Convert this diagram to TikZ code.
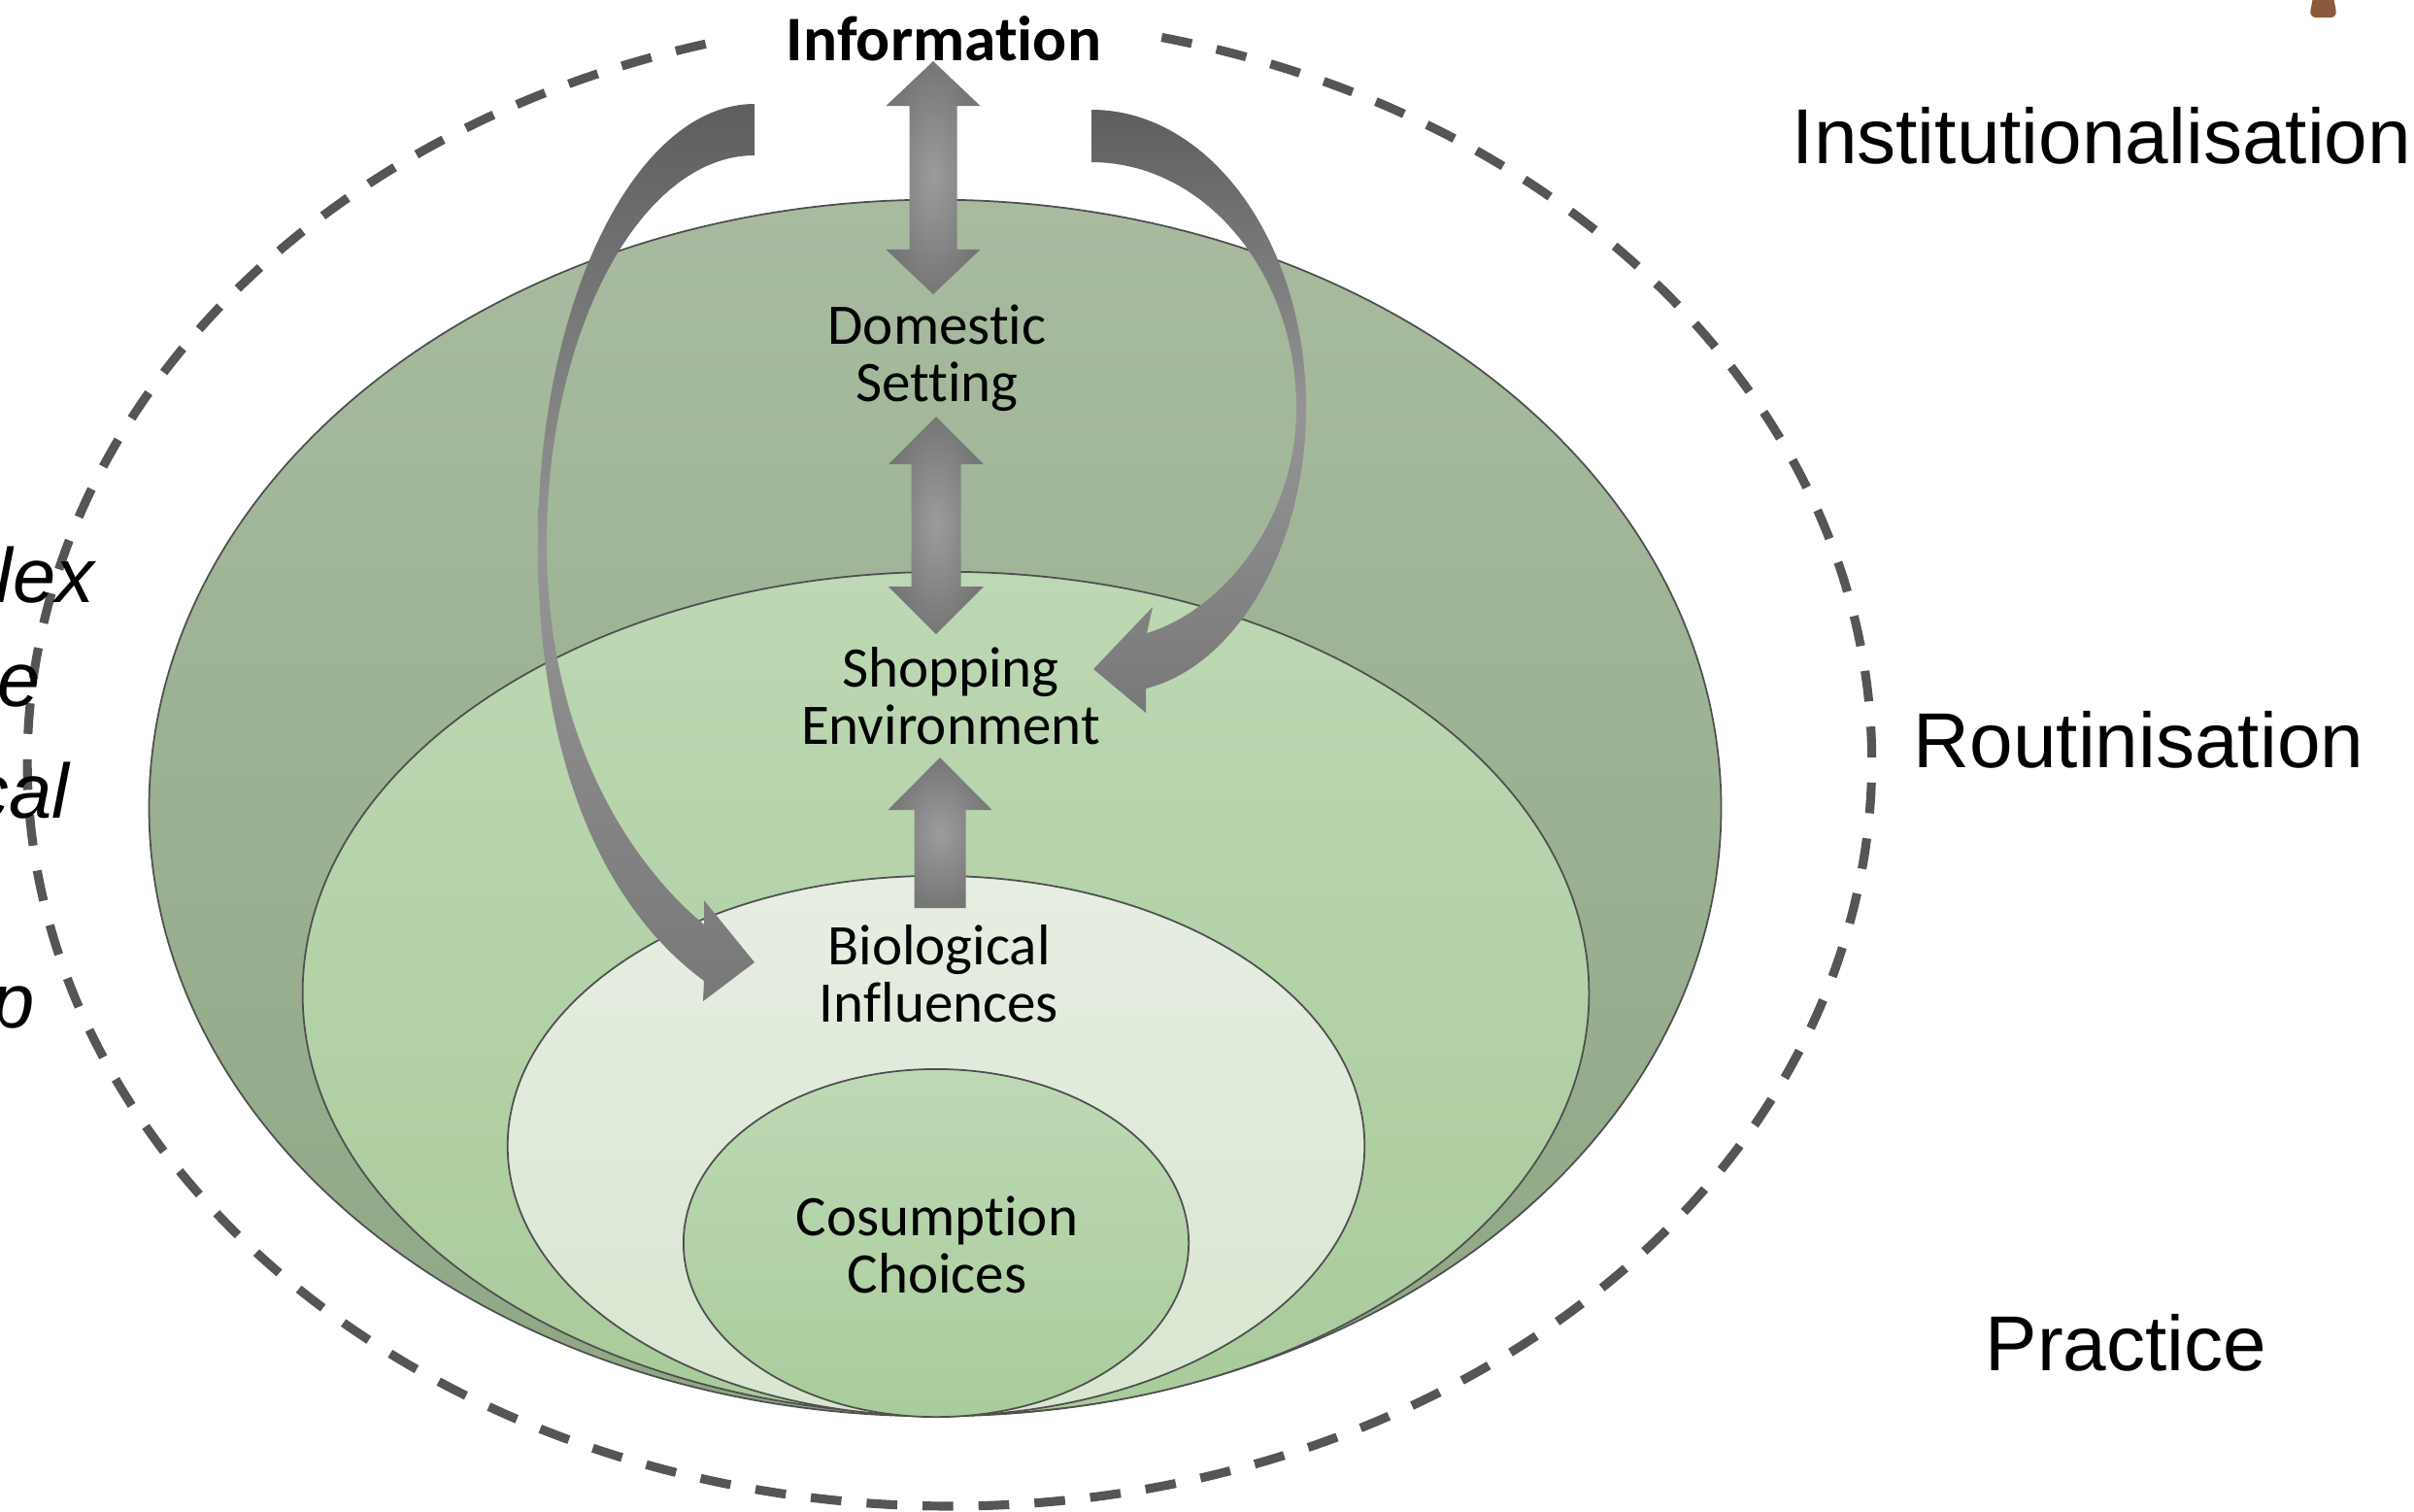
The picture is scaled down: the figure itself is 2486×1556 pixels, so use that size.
\documentclass[tikz,border=0pt]{standalone}
\usepackage{fontspec}
\setmainfont{Carlito}[Ligatures=NoCommon]
\newfontfamily\arialfont{Liberation Sans}
\usetikzlibrary{calc}

\definecolor{domtop}{HTML}{A8BBA0}
\definecolor{dombot}{HTML}{8FA785}
\definecolor{shoptop}{HTML}{BDD8B4}
\definecolor{shopbot}{HTML}{A9CB9B}
\definecolor{biotop}{HTML}{E6EEE2}
\definecolor{biobot}{HTML}{D8E6D0}
\definecolor{constop}{HTML}{BED9B5}
\definecolor{consbot}{HTML}{A9CC9C}
\definecolor{rim}{HTML}{4F4F4F}
\definecolor{dashgray}{HTML}{555555}
\definecolor{curvetop}{HTML}{5E5E5E}
\definecolor{curvemid}{HTML}{959595}
\definecolor{curvebot}{HTML}{787878}
\definecolor{blocklight}{HTML}{9C9C9C}
\definecolor{blockdark}{HTML}{767676}
\definecolor{tabbrown}{HTML}{8B5A3A}

% vertical block arrow with heads at both ends:
% #1 top tip, #2 bottom tip, #3 head half-width, #4 shaft half-width, #5 head length
\newcommand\twowayblock[5]{%
  \shade[blockfill] let \p1=(#1), \p2=(#2) in
    (\p1) -- (\x1+#3,\y1-#5) -- (\x1+#4,\y1-#5) -- (\x2+#4,\y2+#5) -- (\x2+#3,\y2+#5)
    -- (\p2) -- (\x2-#3,\y2+#5) -- (\x2-#4,\y2+#5) -- (\x1-#4,\y1-#5) -- (\x1-#3,\y1-#5) -- cycle;}
% vertical block arrow pointing up, flat tail:
% #1 tip, #2 tail centre, #3 head half-width, #4 shaft half-width, #5 head length
\newcommand\oneupblock[5]{%
  \shade[blockfill] let \p1=(#1), \p2=(#2) in
    (\p1) -- (\x1+#3,\y1-#5) -- (\x1+#4,\y1-#5) -- (\x1+#4,\y2) -- (\x1-#4,\y2)
    -- (\x1-#4,\y1-#5) -- (\x1-#3,\y1-#5) -- cycle;}

\begin{document}
\begin{tikzpicture}[x=0.01cm, y=-0.01cm,
  egg/.style={draw=rim, line width=0.5pt},
  lbl/.style={font=\fontsize{16.8}{16.8}\selectfont, align=center, inner sep=0pt},
  stage/.style={font=\arialfont\fontsize{22.8}{27}\selectfont, inner sep=0pt, anchor=base west},
  sidenote/.style={font=\arialfont\itshape\fontsize{22.6}{27}\selectfont, inner sep=0pt, anchor=base east},
  curvefill/.style={top color=curvetop, bottom color=curvebot, middle color=curvemid},
  blockfill/.style={inner color=blocklight, outer color=blockdark},
  boundary/.style={draw=dashgray, line width=2.6pt, dash pattern=on 9pt off 7.4pt}]

\useasboundingbox (0,0) rectangle (2486,1556);
\clip (0,0) rectangle (2486,1556);

% dashed outer boundary, open at the top for the heading
\draw[boundary] (1196.3,38.5) arc[start angle=76.7, end angle=-255.8, x radius=9.49cm, y radius=7.66cm];

% nested layers, all touching at the bottom
\shade[egg, top color=domtop, bottom color=dombot]   (963,832)  ellipse[x radius=8.09cm, y radius=6.26cm];
\shade[egg, top color=shoptop, bottom color=shopbot] (974,1023) ellipse[x radius=6.62cm, y radius=4.34cm];
\shade[egg, top color=biotop, bottom color=biobot]   (964,1180) ellipse[x radius=4.41cm, y radius=2.78cm];
\shade[egg, top color=constop, bottom color=consbot] (964,1280) ellipse[x radius=2.60cm, y radius=1.79cm];

% tapered curved arrow on the left: Information -> Biological Influences
\shade[curvefill]
  (777,107) -- (777,160)
  .. controls (661,160) and (563,339) .. (563,560)
  .. controls (563,760) and (650,890) .. (725,952)
  -- (725,927) -- (777,991) -- (724,1031) -- (725,1010)
  .. controls (630,940) and (554,800) .. (554,560)
  .. controls (554,310) and (655,107) .. (777,107) -- cycle;

% tapered curved arrow on the right: Information -> Shopping Environment
\shade[curvefill]
  (1124,113)
  .. controls (1246,113) and (1345,250) .. (1345,420)
  .. controls (1345,565) and (1272,686) .. (1180,709)
  -- (1180,734) -- (1126,689) -- (1187,625) -- (1181,652)
  .. controls (1255,630) and (1335,540) .. (1335,420)
  .. controls (1335,280) and (1240,167) .. (1124,167) -- cycle;

% straight block arrows along the centre line
\coordinate (infoTip) at (961,63);
\coordinate (domTip)  at (961,303);
\coordinate (domTipB) at (964,429);
\coordinate (shopTip) at (964,653);
\coordinate (shopUp)  at (968,780);
\coordinate (bioTail) at (968,935);
\twowayblock{infoTip}{domTip}{4.85mm}{2.45mm}{4.6mm}
\twowayblock{domTipB}{shopTip}{4.9mm}{2.55mm}{4.9mm}
\oneupblock{shopUp}{bioTail}{5.35mm}{2.65mm}{5.4mm}

% labels inside the diagram
\node[font=\fontsize{18.6}{20}\selectfont\bfseries, inner sep=0pt] (info) at (972,40) {Information};
\node[lbl] (dom)  at (965,369)  {Domestic\\Setting};
\node[lbl] (shop) at (979,717)  {Shopping\\Environment};
\node[lbl] (bio)  at (967,1003) {Biological\\Influences};
\node[lbl] (cons) at (965,1282) {Cosumption\\Choices};

% stage names on the right
\node[stage] (inst) at (1845,168)  {Institutionalisation};
\node[stage] (rout) at (1970,790)  {Routinisation};
\node[stage] (prac) at (2044,1411) {Practice};

% running text at the left edge
\node[sidenote] (n1) at (98,620)  {lex};
\node[sidenote] (n2) at (42,727)  {e};
\node[sidenote] (n3) at (72,842)  {cal};
\node[sidenote] (n4) at (36,1058) {p};

% small tab at the top right
\fill[tabbrown, rounded corners=2pt] (2383,-8) -- (2378,18) -- (2407,18) -- (2402,-8) -- cycle;

\end{tikzpicture}
\end{document}
